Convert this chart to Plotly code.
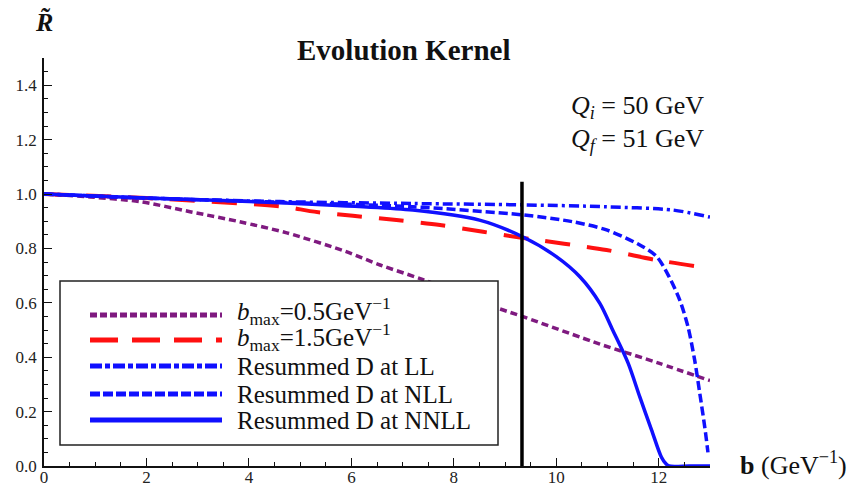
import plotly.graph_objects as go

# ---- data ----
b_p05 = [0, 0.9, 1.87, 2.85, 3.82, 4.74, 5.9, 6.56, 7.4, 8.86, 9.35, 10.85, 11.28, 12.0, 13.0]
r_p05 = [1.0, 0.989, 0.972, 0.935, 0.898, 0.857, 0.788, 0.739, 0.685, 0.58, 0.549, 0.448, 0.422, 0.378, 0.314]

b_p15 = [0, 2, 4.74, 5.19, 6.03, 6.88, 7.73, 8.57, 9.29, 10.98, 11.96, 13.0]
r_p15 = [1.0, 0.985, 0.952, 0.937, 0.92, 0.904, 0.886, 0.861, 0.84, 0.794, 0.757, 0.727]

b_ll = [0, 2, 4.6, 7.2, 9.35, 10.98, 12.28, 13.0]
r_ll = [1.0, 0.985, 0.972, 0.965, 0.96, 0.953, 0.941, 0.915]

b_nll = [0, 2, 4.6, 7.2, 9.35, 10.32, 10.98, 11.63, 11.96, 12.2, 12.41, 12.57, 12.7, 12.8, 12.9, 12.96]
r_nll = [1.0, 0.985, 0.97, 0.953, 0.923, 0.898, 0.868, 0.8125, 0.77, 0.696, 0.61, 0.512, 0.39, 0.268, 0.14, 0.05]

b_nnll = [0, 2, 4.6, 7.2, 8.5, 9.35, 10.0, 10.46, 10.85, 11.1, 11.4, 11.63, 11.86, 12.05, 12.14, 12.2, 12.6, 13.0]
r_nnll = [1.0, 0.985, 0.968, 0.941, 0.904, 0.842, 0.77, 0.696, 0.598, 0.5, 0.379, 0.254, 0.132, 0.033, 0.008, 0.0, 0.0, 0.0]

b_cut = 9.33
cut_range = [-0.03, 1.045]

x_ticks = [0, 2, 4, 6, 8, 10, 12]
y_ticks = [0.0, 0.2, 0.4, 0.6, 0.8, 1.0, 1.2, 1.4]

legend_labels = [
    "<i>b</i><sub>max</sub>=0.5GeV<sup>−1</sup>",
    "<i>b</i><sub>max</sub>=1.5GeV<sup>−1</sup>",
    "Resummed D at LL",
    "Resummed D at NLL",
    "Resummed D at NNLL",
]

PURPLE = "#7f1a80"
RED = "#ff1010"
BLUE = "#1010ff"
SERIF = "Liberation Serif"

styles = [
    dict(color=PURPLE, width=3.5, dash="7px,4px"),
    dict(color=RED, width=4, dash="25px,17px"),
    dict(color=BLUE, width=3.5, dash="10px,4px,3px,4px"),
    dict(color=BLUE, width=3.5, dash="9px,4px"),
    dict(color=BLUE, width=3.5, dash="solid"),
]
legend_styles = [
    dict(color=PURPLE, width=5, dash="7px,3px"),
    dict(color=RED, width=5, dash="28px,14px"),
    dict(color=BLUE, width=5, dash="12px,3px,5px,3px"),
    dict(color=BLUE, width=5, dash="10px,3px"),
    dict(color=BLUE, width=5, dash="solid"),
]

series = [(b_p05, r_p05), (b_p15, r_p15), (b_ll, r_ll), (b_nll, r_nll), (b_nnll, r_nnll)]

fig = go.Figure()
for (bx, ry), st, name in zip(series, styles, legend_labels):
    fig.add_trace(go.Scatter(x=bx, y=ry, mode="lines", name=name,
                             line=dict(color=st["color"], width=st["width"], dash=st["dash"],
                                       shape="spline", smoothing=0.8),
                             showlegend=False))

fig.add_trace(go.Scatter(x=[b_cut, b_cut], y=cut_range, mode="lines",
                         line=dict(color="black", width=3.5), showlegend=False, cliponaxis=False))

# plot-area geometry (px)
L, R, T, B = 44, 710, 58, 466
W, H = 852, 489

def px(xp):
    return (xp - L) / (R - L)

def py(yp):
    return (B - yp) / (B - T)

shapes = [dict(type="rect", xref="paper", yref="paper",
               x0=px(60), x1=px(498), y0=py(445), y1=py(281),
               line=dict(color="#222", width=1.5), fillcolor="white", layer="above")]
rows = [315, 340, 366, 394, 420]
text_rows = [311, 337, 366, 394, 420]
annotations = []
for yy, ty, st, lab in zip(rows, text_rows, legend_styles, legend_labels):
    shapes.append(dict(type="line", xref="paper", yref="paper",
                       x0=px(90), x1=px(222), y0=py(yy), y1=py(yy),
                       line=st, layer="above"))
    annotations.append(dict(x=px(235), y=py(ty), xref="paper", yref="paper",
                            text=lab, showarrow=False, xanchor="left", yanchor="middle",
                            font=dict(family=SERIF, size=25, color="#111")))

annotations += [
    dict(x=px(403), y=py(50), xref="paper", yref="paper", text="<b>Evolution Kernel</b>",
         showarrow=False, xanchor="center", yanchor="middle",
         font=dict(family=SERIF, size=29, color="#111")),
    dict(x=px(44), y=py(22), xref="paper", yref="paper", text="<b><i>R̃</i></b>",
         showarrow=False, xanchor="center", yanchor="middle",
         font=dict(family=SERIF, size=26, color="#111")),
    dict(x=px(738), y=py(463), xref="paper", yref="paper",
         text="<b>b</b> (GeV<sup>−1</sup>)",
         showarrow=False, xanchor="left", yanchor="middle",
         font=dict(family=SERIF, size=26, color="#111")),
    dict(x=px(706), y=py(107), xref="paper", yref="paper",
         text="<i>Q<sub>i</sub></i> = 50 GeV",
         showarrow=False, xanchor="right", yanchor="middle",
         font=dict(family=SERIF, size=26, color="#111")),
    dict(x=px(706), y=py(140), xref="paper", yref="paper",
         text="<i>Q<sub>f</sub></i> = 51 GeV",
         showarrow=False, xanchor="right", yanchor="middle",
         font=dict(family=SERIF, size=26, color="#111")),
]

fig.update_layout(
    width=W, height=H,
    margin=dict(l=L, r=W - R, t=T, b=H - B, pad=0, autoexpand=False),
    paper_bgcolor="white", plot_bgcolor="white",
    shapes=shapes, annotations=annotations, showlegend=False,
    xaxis=dict(range=[0, 13], showgrid=False, zeroline=False, showline=True, automargin=False,
               linecolor="#111", linewidth=1.5, ticks="inside", ticklen=8, tickwidth=1.3,
               tickcolor="#111", tickvals=x_ticks, ticktext=[str(v) for v in x_ticks],
               ticklabelstandoff=-5,
               tickfont=dict(family=SERIF, size=17, color="#222"),
               minor=dict(dtick=0.5, ticks="inside", ticklen=4, tickcolor="#111", tickwidth=1.2,
                          showgrid=False)),
    yaxis=dict(range=[0, 1.5], showgrid=False, zeroline=False, showline=True, automargin=False,
               linecolor="#111", linewidth=1.5, ticks="inside", ticklen=8, tickwidth=1.3,
               tickcolor="#111", tickvals=y_ticks, ticktext=[f"{v:.1f}" for v in y_ticks],
               ticklabelstandoff=2,
               tickfont=dict(family=SERIF, size=17, color="#222"),
               minor=dict(dtick=0.05, ticks="inside", ticklen=4, tickcolor="#111", tickwidth=1.2,
                          showgrid=False)),
)

fig.write_html("out.html")
